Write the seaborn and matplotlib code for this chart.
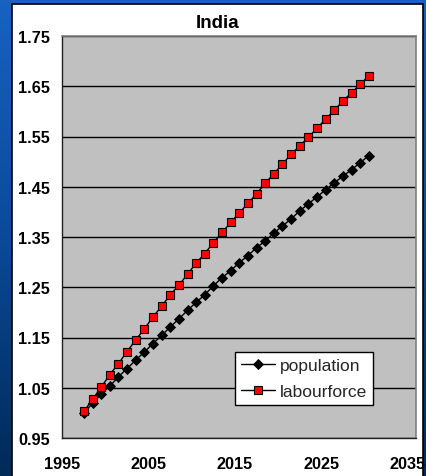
import numpy as np
import pandas as pd
import matplotlib
matplotlib.use("Agg")
import matplotlib.pyplot as plt
from matplotlib.patches import Rectangle
from matplotlib.colors import LinearSegmentedColormap
import seaborn as sns

# Index (1997 = 1.00), mid-year points
years = [y + 0.5 for y in range(1997, 2031)]
population = [1.000, 1.019, 1.037, 1.053, 1.072, 1.088, 1.105, 1.121, 1.138,
              1.154, 1.171, 1.187, 1.204, 1.220, 1.235, 1.253, 1.269, 1.283,
              1.299, 1.313, 1.329, 1.342, 1.358, 1.372, 1.386, 1.402, 1.416,
              1.430, 1.444, 1.458, 1.471, 1.484, 1.498, 1.512]
labourforce = [1.003, 1.027, 1.051, 1.076, 1.098, 1.122, 1.145, 1.167, 1.191,
               1.212, 1.235, 1.254, 1.276, 1.298, 1.317, 1.339, 1.359, 1.379,
               1.398, 1.417, 1.436, 1.457, 1.476, 1.495, 1.515, 1.531, 1.549,
               1.566, 1.585, 1.602, 1.621, 1.637, 1.654, 1.671]
x_ticks = [1995, 2005, 2015, 2025, 2035]
y_ticks = [0.95, 1.05, 1.15, 1.25, 1.35, 1.45, 1.55, 1.65, 1.75]
title = "India"

df = pd.DataFrame({"year": years, "population": population,
                   "labourforce": labourforce})

sns.set_theme(style="white")
plt.rcParams["font.family"] = ["Liberation Sans", "DejaVu Sans"]

W, H = 426, 477
fig = plt.figure(figsize=(W / 100, H / 100), dpi=100)

# blue gradient backdrop
bg = fig.add_axes([0, 0, 1, 1], zorder=-10)
cmap = LinearSegmentedColormap.from_list("slide", ["#1762c2", "#0a4a98", "#002a58"])
grad = np.linspace(0, 1, 256).reshape(-1, 1)
bg.imshow(grad, aspect="auto", cmap=cmap, extent=[0, 1, 0, 1], origin="upper")
bg.set_axis_off()

# white chart area with black border
fig.patches.append(Rectangle((12 / W, -0.01), (423 - 12) / W, 1 - 5 / H + 0.01,
                             transform=fig.transFigure, facecolor="white",
                             edgecolor="black", linewidth=1.2, zorder=-5))

left, right, top, bottom = 62.3, 416, 37, 439
ax = fig.add_axes([left / W, 1 - bottom / H, (right - left) / W, (bottom - top) / H])
ax.set_facecolor("#c0c0c0")

sns.lineplot(data=df, x="year", y="population", ax=ax, color="black",
             linewidth=1.0, marker="D", markersize=5.2, markerfacecolor="black",
             markeredgecolor="black", markeredgewidth=0.6, label="population")
sns.lineplot(data=df, x="year", y="labourforce", ax=ax, color="black",
             linewidth=1.0, marker="s", markersize=5.2, markerfacecolor="#ff0000",
             markeredgecolor="black", markeredgewidth=0.8, label="labourforce")

ax.set_xlim(1995, 2035.96)
ax.set_ylim(0.95, 1.75)
ax.set_xticks(x_ticks)
ax.set_yticks(y_ticks)
ax.set_xticklabels([str(t) for t in x_ticks])
ax.set_yticklabels([f"{t:.2f}" for t in y_ticks])
ax.yaxis.grid(True, color="black", linewidth=1.0)
ax.set_axisbelow(True)
ax.set_xlabel("")
ax.set_ylabel("")

for side in ["top", "right"]:
    ax.spines[side].set_color("#808080")
    ax.spines[side].set_linewidth(1.2)
for side in ["left", "bottom"]:
    ax.spines[side].set_color("#202020")
    ax.spines[side].set_linewidth(1.0)

ax.tick_params(axis="both", which="major", direction="out", length=4,
               width=1.0, color="black", labelsize=11.7, labelcolor="black")
ax.tick_params(axis="y", pad=5)
ax.tick_params(axis="x", pad=9)
for lab in ax.get_xticklabels() + ax.get_yticklabels():
    lab.set_fontweight("bold")

fig.text(218 / W, 1 - 24 / H, title, ha="center", va="center",
         fontsize=13.5, fontweight="bold", color="black")

leg = ax.legend(loc="upper left", bbox_to_anchor=(235 / W, 1 - 352.7 / H),
                bbox_transform=fig.transFigure, frameon=True, fancybox=False,
                fontsize=12.5, handlelength=1.95, handletextpad=0.3,
                borderpad=0.35, labelspacing=0.62, borderaxespad=0)
leg.get_frame().set_edgecolor("black")
leg.get_frame().set_facecolor("white")
leg.get_frame().set_linewidth(1.0)
leg.get_frame().set_alpha(1)

fig.savefig("out.png", dpi=100)
